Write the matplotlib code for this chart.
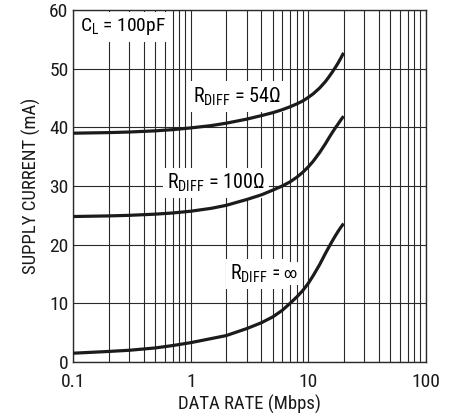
import matplotlib
matplotlib.use("Agg")
import matplotlib.pyplot as plt
from matplotlib import font_manager
from matplotlib.ticker import FixedLocator, NullFormatter

# pick a narrow sans if one is installed, else plain Liberation Sans
installed = {f.name: f.stretch for f in font_manager.fontManager.ttflist}
face = 'Liberation Sans'
stretch = 'normal'
for name in ['Liberation Sans Narrow', 'Arial Narrow', 'Nimbus Sans Narrow', 'Roboto Condensed',
             'Open Sans Condensed', 'DejaVu Sans Condensed']:
    if name in installed:
        face = name
        break
else:
    for f in font_manager.fontManager.ttflist:
        if f.name in ('Liberation Sans', 'DejaVu Sans', 'Open Sans', 'Noto Sans') and \
                str(f.stretch) in ('condensed', 'semi-condensed', '75', '87.5'):
            face, stretch = f.name, f.stretch
            break

plt.rcParams['font.family'] = [face, 'DejaVu Sans']
plt.rcParams['font.stretch'] = stretch
plt.rcParams['mathtext.fontset'] = 'custom'
plt.rcParams['mathtext.rm'] = face

# data rate (Mbps) and supply current (mA)
rate = [0.1, 0.2, 0.3, 0.5, 0.7, 1, 1.5, 2, 3, 4, 5, 6, 7, 8, 9, 10, 11, 12.5, 14, 15, 16, 17, 18, 19, 20]
i_54 = [39.0, 39.1, 39.2, 39.4, 39.6, 39.9, 40.3, 40.7, 41.4, 42.0, 42.5, 43.0, 43.5, 44.0, 44.5,
        45.1, 45.7, 46.7, 47.8, 48.6, 49.4, 50.2, 51.0, 51.85, 52.7]
i_100 = [24.8, 24.9, 25.0, 25.2, 25.4, 25.7, 26.2, 26.7, 27.7, 28.5, 29.3, 30.0, 30.7, 31.5, 32.35,
         33.25, 34.2, 35.7, 37.2, 38.2, 39.1, 39.9, 40.6, 41.3, 41.9]
i_inf = [1.5, 1.8, 2.0, 2.4, 2.8, 3.3, 4.0, 4.5, 5.7, 6.7, 7.7, 8.8, 10.0, 11.1, 12.2,
         13.4, 14.7, 16.6, 18.5, 19.6, 20.6, 21.5, 22.3, 23.0, 23.6]

x_ticks = [0.1, 1, 10, 100]
x_labels = ['0.1', '1', '10', '100']
y_ticks = [0, 10, 20, 30, 40, 50, 60]

fig = plt.figure(figsize=(4.56, 4.16), dpi=100)
ax = fig.add_axes([0.1607, 0.1298, 0.7729, 0.8462])

ax.set_xscale('log')
ax.set_xlim(0.1, 100)
ax.set_ylim(0, 60)

minor = [m * d for d in (0.1, 1, 10) for m in range(2, 10)]
ax.xaxis.set_major_locator(FixedLocator(x_ticks))
ax.xaxis.set_minor_locator(FixedLocator(minor))
ax.xaxis.set_minor_formatter(NullFormatter())
ax.set_xticks(x_ticks)
ax.set_xticklabels(x_labels)
ax.set_yticks(y_ticks)

ax.grid(True, which='both', axis='x', color='#2a2a2a', lw=0.8)
ax.grid(True, which='major', axis='y', color='#2a2a2a', lw=0.8)
ax.tick_params(which='both', length=0, labelsize=14, colors='#1a1a1a')
ax.tick_params(axis='x', pad=8)
ax.tick_params(axis='y', pad=3.5)
for s in ax.spines.values():
    s.set_color('#2a2a2a')
    s.set_linewidth(1.0)

for y in (i_54, i_100, i_inf):
    ax.plot(rate, y, color='#1e1a1a', lw=2.3, zorder=5, solid_capstyle='butt')

box = dict(facecolor='white', edgecolor='none', pad=3)
ax.text(0.114, 57.1, r'C$_\mathregular{L}$ = 100pF', fontsize=14, ha='left', va='center', bbox=box, zorder=4)
ax.text(1.04, 45.2, r'R$_\mathregular{DIFF}$ = 54Ω', fontsize=14.5, ha='left', va='center', bbox=box, zorder=4)
ax.text(0.627, 30.5, r'R$_\mathregular{DIFF}$ = 100Ω', fontsize=14.5, ha='left', va='center', bbox=box, zorder=4)
t_inf = ax.text(2.16, 15.0, r'R$_\mathregular{DIFF}$ = ', fontsize=14.5, ha='left', va='center',
                bbox=box, zorder=4)
ax.annotate('∞', xy=(1, 0.52), xycoords=t_inf, fontsize=11, ha='left', va='center',
            bbox=box, zorder=4)

ax.set_xlabel('DATA RATE (Mbps)', fontsize=13.5, color='#1a1a1a', labelpad=3)
ax.set_ylabel('SUPPLY CURRENT (mA)', fontsize=13.5, color='#1a1a1a', labelpad=6)

fig.savefig('out.png', dpi=100)
